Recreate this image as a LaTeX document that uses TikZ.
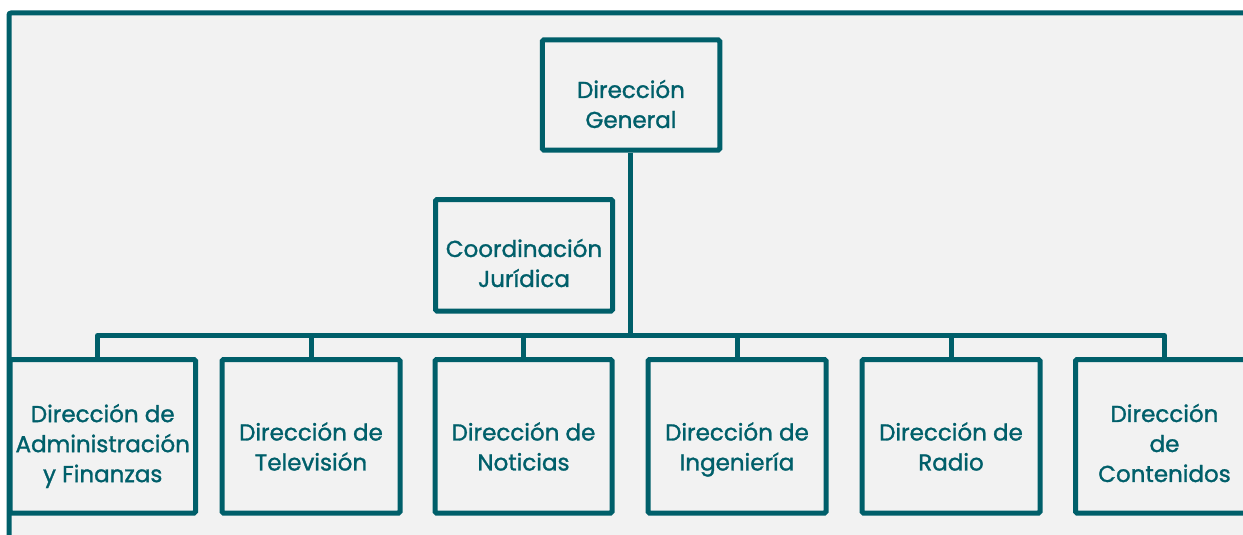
\documentclass[tikz,border=0pt]{standalone}
\usepackage{fontspec}
\newfontfamily\lblfont{Poppins}[BoldFont=*, BoldFeatures={FakeBold=1.3}]
\definecolor{teal}{HTML}{005F6A}
\definecolor{bg}{HTML}{F2F2F2}
\tikzset{
  box/.style={draw=teal, line width=5pt, fill=bg, rectangle, inner sep=0pt, rounded corners=1.5pt},
  lbl/.style={text=teal, font=\lblfont\bfseries\fontsize{23}{30}\selectfont, align=center, inner sep=0pt},
  link/.style={draw=teal, line width=5pt},
}
\begin{document}
\begin{tikzpicture}[x=1pt,y=-1pt]
\useasboundingbox (0,0) rectangle (1243,535);
\clip (0,0) rectangle (1243,535);
\fill[bg] (9,13) rectangle (1250,540);
\draw[link, rounded corners=2pt] (9,540) -- (9,13) -- (1250,13);
% top boxes
\node[box, minimum width=177.5pt, minimum height=110pt] (dg) at (631,95) {};
\node[box, minimum width=177pt, minimum height=111.5pt] (cj) at (524,255.25) {};
% bus
\coordinate (bus) at (630.5,335.5);
\coordinate (busL) at (97.5,335.5);
\coordinate (busR) at (1164.5,335.5);
% bottom boxes
\node[box, minimum width=185.5pt, minimum height=153.5pt] (b1) at (102.75,436.25) {};
\node[box, minimum width=178pt, minimum height=153.5pt] (b2) at (311,436.25) {};
\node[box, minimum width=177pt, minimum height=153.5pt] (b3) at (523.5,436.25) {};
\node[box, minimum width=178pt, minimum height=153.5pt] (b4) at (737,436.25) {};
\node[box, minimum width=178pt, minimum height=153.5pt] (b5) at (951,436.25) {};
\node[box, minimum width=178pt, minimum height=153.5pt] (b6) at (1164.5,436.25) {};
% connectors
\draw[link] (dg.south -| bus) -- (bus);
\draw[link, line join=round] (busL |- b1.north) -- (busL) -- (busR) -- (busR |- b6.north);
\draw[link] (b2.north) -- (b2.north |- bus);
\draw[link] (b3.north) -- (b3.north |- bus);
\draw[link] (b4.north) -- (b4.north |- bus);
\draw[link] (b5.north) -- (b5.north |- bus);
% labels
\node[lbl] (tdg) at (631,104) {Dirección\\General};
\node[lbl] (tcj) at (524,263) {Coordinación\\Jurídica};
\node[lbl] (t1) at (102.75,446) {Dirección de\\Administración\\y Finanzas};
\node[lbl] (t2) at (311,446.5) {Dirección de\\Televisión};
\node[lbl] (t3) at (523.5,446.5) {Dirección de\\Noticias};
\node[lbl] (t4) at (737,449.5) {Dirección de\\Ingeniería};
\node[lbl] (t5) at (951,446.5) {Dirección de\\Radio};
\node[lbl] (t6) at (1164.5,443) {Dirección\\de\\Contenidos};
\end{tikzpicture}
\end{document}
